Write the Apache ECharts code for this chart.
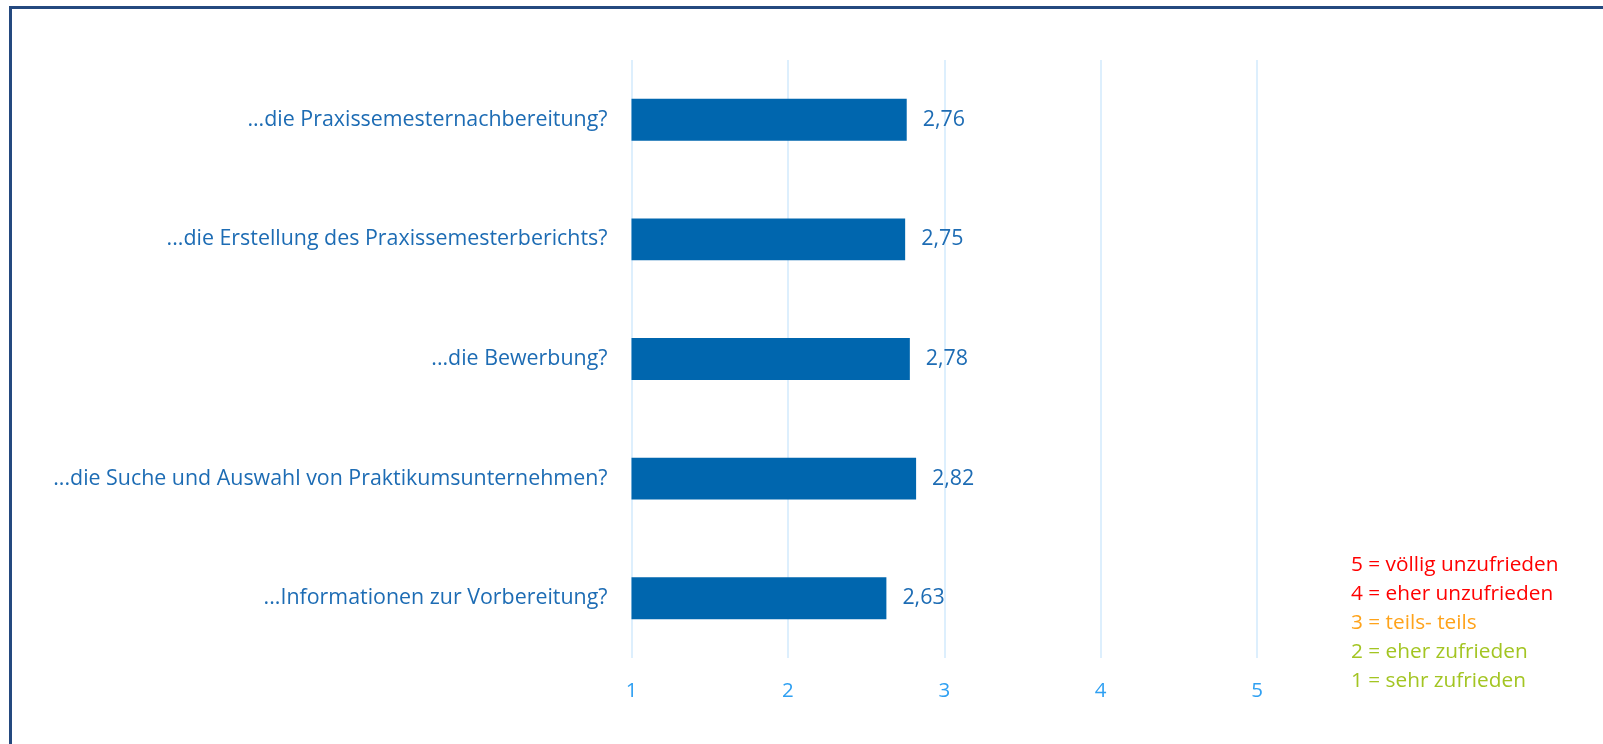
<!DOCTYPE html>
<html>
<head>
<meta charset="utf-8">
<script src="https://cdn.jsdelivr.net/npm/echarts@6/dist/echarts.min.js"></script>
<style>
  html, body { margin: 0; padding: 0; background: #ffffff; }
  #chart { width: 1603px; height: 744px; }
</style>
</head>
<body>
<div id="chart"></div>
<script>
// Questions, listed top to bottom
const categories = [
  '...die Praxissemesternachbereitung?',
  '...die Erstellung des Praxissemesterberichts?',
  '...die Bewerbung?',
  '...die Suche und Auswahl von Praktikumsunternehmen?',
  '...Informationen zur Vorbereitung?'
];
// Mean satisfaction per question (1 = sehr zufrieden ... 5 = völlig unzufrieden)
const meanValues = [2.76, 2.75, 2.78, 2.82, 2.63];
// Scale explanation shown at the lower right
const scaleLabels = [
  '5 = völlig unzufrieden',
  '4 = eher unzufrieden',
  '3 = teils- teils',
  '2 = eher zufrieden',
  '1 = sehr zufrieden'
];
const scaleColors = ['#ff0000', '#ff0000', '#ffa31a', '#a3c522', '#a3c522'];

const FONT = '"Open Sans", sans-serif';

const chart = echarts.init(document.getElementById('chart'), null, { renderer: 'canvas' });

const legendGraphics = scaleLabels.map((t, i) => ({
  type: 'text',
  x: 1351,
  y: 565 + i * 29,
  style: { text: t, fill: scaleColors[i], font: '20.8px ' + FONT, verticalAlign: 'middle' }
}));

chart.setOption({
  animation: false,
  backgroundColor: '#ffffff',
  grid: { left: 631.5, right: 346, top: 60, bottom: 86, containLabel: false },
  xAxis: {
    type: 'value',
    min: 1,
    max: 5,
    interval: 1,
    axisLine: { show: false },
    axisTick: { show: false },
    splitLine: { show: true, lineStyle: { color: '#d2eafc', width: 1.5 } },
    axisLabel: { color: '#2fa0f2', fontSize: 20.5, fontFamily: FONT, margin: 23 }
  },
  yAxis: {
    type: 'category',
    inverse: true,
    data: categories,
    axisLine: { show: false },
    axisTick: { show: false },
    axisLabel: { color: '#1d6cb4', fontSize: 21.4, fontFamily: FONT, margin: 24 }
  },
  series: [{
    type: 'bar',
    data: meanValues,
    barWidth: '35%',
    itemStyle: { color: '#0066ae' },
    label: {
      show: true,
      position: 'right',
      distance: 16,
      color: '#1d6cb4',
      fontSize: 21.4,
      fontFamily: FONT,
      formatter: p => p.value.toFixed(2).replace('.', ',')
    }
  }],
  graphic: [
    {
      type: 'rect',
      shape: { x: 10.5, y: 7.5, width: 1700, height: 900 },
      style: { fill: null, stroke: '#24497f', lineWidth: 3 },
      silent: true
    }
  ].concat(legendGraphics)
});
</script>
</body>
</html>
